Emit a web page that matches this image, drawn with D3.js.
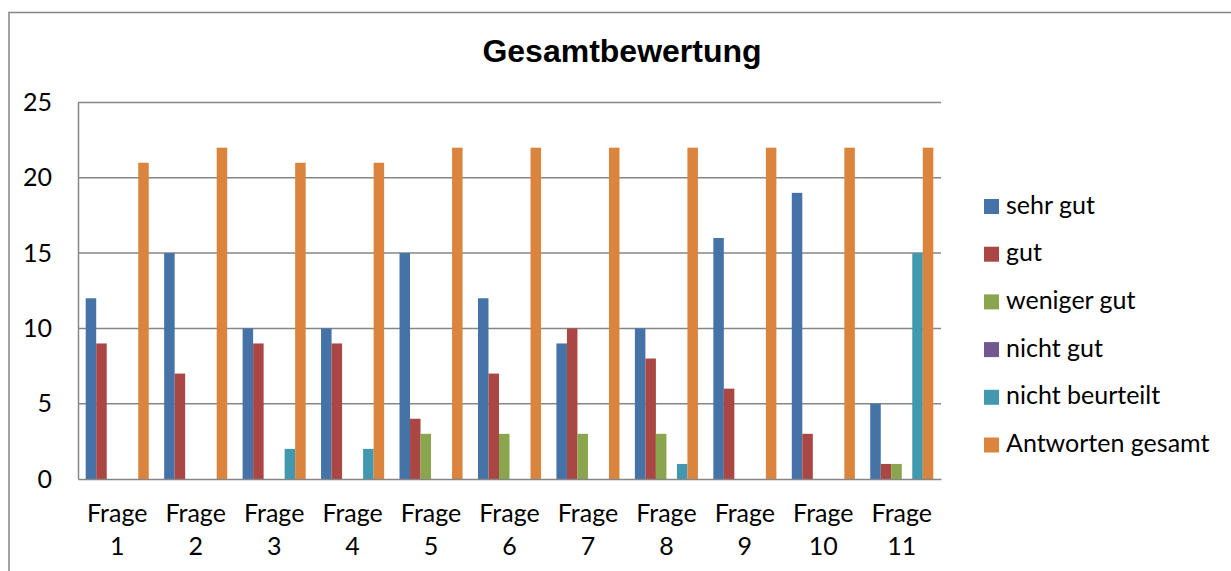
<!DOCTYPE html>
<html>
<head>
<meta charset="utf-8">
<script src="https://cdn.jsdelivr.net/npm/d3@7"></script>
<style>
  html, body { margin: 0; padding: 0; background: #fff; }
  svg { display: block; }
</style>
</head>
<body>
<div id="chart"></div>
<script>
  // --- Data ---
  const categories = ['Frage 1', 'Frage 2', 'Frage 3', 'Frage 4', 'Frage 5', 'Frage 6',
    'Frage 7', 'Frage 8', 'Frage 9', 'Frage 10', 'Frage 11'];
  const seriesNames = ['sehr gut', 'gut', 'weniger gut', 'nicht gut', 'nicht beurteilt', 'Antworten gesamt'];
  const sehrGut = [12, 15, 10, 10, 15, 12, 9, 10, 16, 19, 5];
  const gut = [9, 7, 9, 9, 4, 7, 10, 8, 6, 3, 1];
  const wenigerGut = [0, 0, 0, 0, 3, 3, 3, 3, 0, 0, 1];
  const nichtGut = [0, 0, 0, 0, 0, 0, 0, 0, 0, 0, 0];
  const nichtBeurteilt = [0, 0, 2, 2, 0, 0, 0, 1, 0, 0, 15];
  const antwortenGesamt = [21, 22, 21, 21, 22, 22, 22, 22, 22, 22, 22];
  const yTicks = [0, 5, 10, 15, 20, 25];

  const seriesValues = [sehrGut, gut, wenigerGut, nichtGut, nichtBeurteilt, antwortenGesamt];
  const colors = ['#4572a7', '#aa4643', '#89a54e', '#71588f', '#4198af', '#db843d'];

  const W = 1231, H = 571;
  const plot = { left: 78, right: 941, top: 102.5, bottom: 479 };
  const GRAY = '#868686';
  const LABEL_FONT = 'Lato, "Open Sans", sans-serif';
  const LABEL_SIZE = '25px';

  const svg = d3.select('#chart').append('svg')
    .attr('width', W).attr('height', H);

  // chart frame (cropped on right / bottom)
  svg.append('rect')
    .attr('x', 9).attr('y', 12.5)
    .attr('width', W + 20).attr('height', H + 20)
    .attr('fill', 'none')
    .attr('stroke', GRAY)
    .attr('stroke-width', 1.5);

  // title
  svg.append('text')
    .attr('x', 622).attr('y', 62)
    .attr('text-anchor', 'middle')
    .attr('font-family', '"Liberation Sans", Arial, sans-serif')
    .attr('font-weight', 'bold')
    .attr('font-size', '32px')
    .attr('fill', '#000')
    .text('Gesamtbewertung');

  const x0 = d3.scaleBand()
    .domain(categories)
    .range([plot.left, plot.right]);

  const x1 = d3.scaleBand()
    .domain(seriesNames)
    .range([7.7, x0.bandwidth() - 7.7]);

  const y = d3.scaleLinear()
    .domain([0, 25])
    .range([plot.bottom, plot.top]);

  // grid lines
  svg.append('g')
    .selectAll('line')
    .data(yTicks.filter(t => t > 0))
    .join('line')
    .attr('x1', plot.left).attr('x2', plot.right)
    .attr('y1', d => y(d)).attr('y2', d => y(d))
    .attr('stroke', GRAY)
    .attr('stroke-width', 1.5);

  // bars
  const groups = svg.append('g')
    .selectAll('g')
    .data(categories)
    .join('g')
    .attr('transform', d => `translate(${x0(d)},0)`);

  groups.selectAll('rect')
    .data((d, i) => seriesNames.map((s, j) => ({ s, j, v: seriesValues[j][i] })))
    .join('rect')
    .filter(d => d.v > 0)
    .attr('x', d => x1(d.s))
    .attr('width', x1.bandwidth())
    .attr('y', d => y(d.v))
    .attr('height', d => y(0) - y(d.v))
    .attr('fill', d => colors[d.j]);

  // y axis
  const yAxis = svg.append('g')
    .attr('transform', `translate(${plot.left},0)`)
    .call(d3.axisLeft(y).tickValues(yTicks).tickSize(0).tickPadding(26));
  yAxis.select('.domain').attr('stroke', GRAY).attr('stroke-width', 1.5);
  yAxis.selectAll('text')
    .attr('font-family', LABEL_FONT)
    .attr('font-size', LABEL_SIZE)
    .attr('fill', '#000');

  // x axis
  const xAxis = svg.append('g')
    .attr('transform', `translate(0,${plot.bottom})`)
    .call(d3.axisBottom(x0).tickSize(0).tickFormat(''));
  xAxis.select('.domain').attr('stroke', GRAY).attr('stroke-width', 1.5);

  const xLabels = svg.append('g')
    .selectAll('text')
    .data(categories)
    .join('text')
    .attr('text-anchor', 'middle')
    .attr('font-family', LABEL_FONT)
    .attr('font-size', LABEL_SIZE)
    .attr('fill', '#000');
  xLabels.each(function (d) {
    const parts = d.split(' ');
    const cx = x0(d) + x0.bandwidth() / 2;
    const t = d3.select(this);
    t.append('tspan').attr('x', cx).attr('y', 522).text(parts[0]);
    t.append('tspan').attr('x', cx).attr('y', 554.5).text(parts[1]);
  });

  // legend
  const legend = svg.append('g')
    .attr('transform', 'translate(984,199)');
  const items = legend.selectAll('g')
    .data(seriesNames)
    .join('g')
    .attr('transform', (d, i) => `translate(0,${i * 47.7})`);
  items.append('rect')
    .attr('width', 15).attr('height', 15)
    .attr('fill', (d, i) => colors[i]);
  items.append('text')
    .attr('x', 22).attr('y', 14.5)
    .attr('font-family', LABEL_FONT)
    .attr('font-size', LABEL_SIZE)
    .attr('fill', '#000')
    .text(d => d);
</script>
</body>
</html>
